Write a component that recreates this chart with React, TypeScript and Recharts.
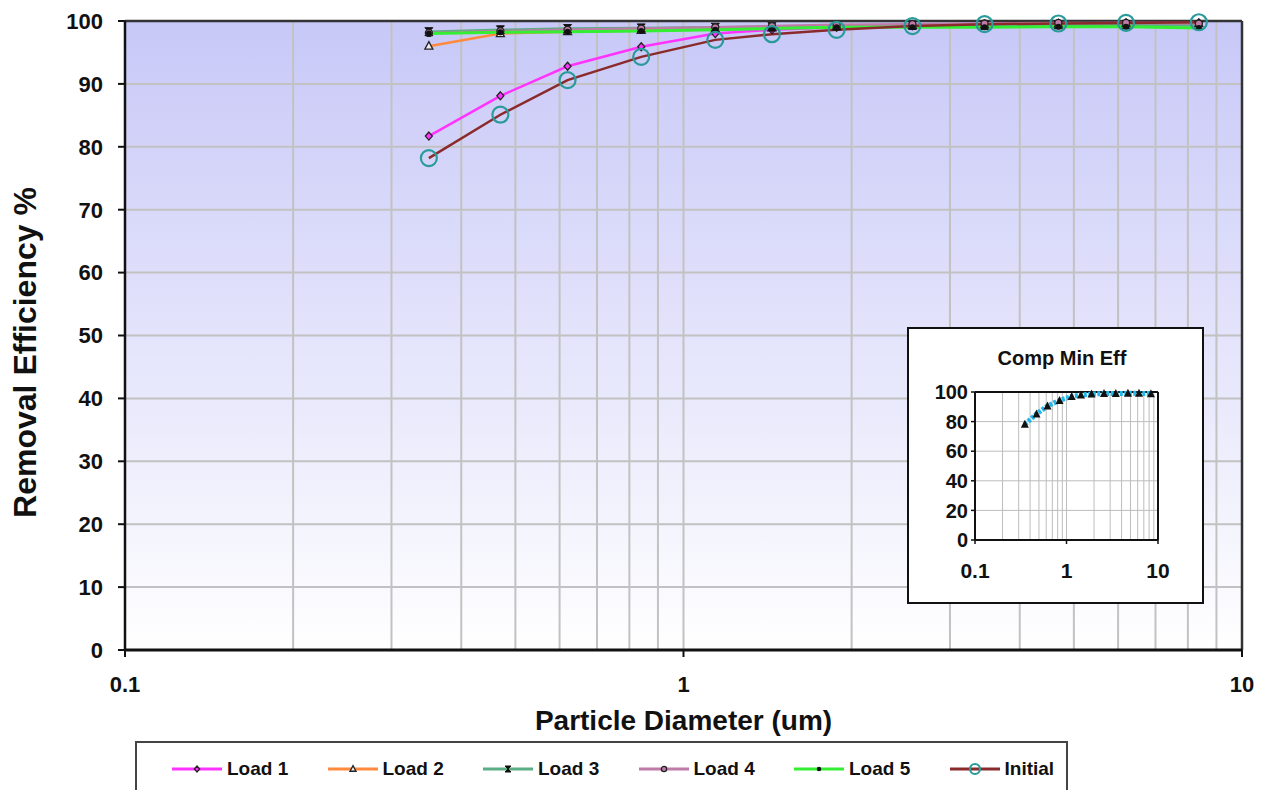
import React from 'react';
import {
  LineChart,
  Line,
  XAxis,
  YAxis,
  CartesianGrid,
  ReferenceLine,
  Label,
} from 'recharts';

// particle sizes (um)
const sizes = [0.35, 0.47, 0.62, 0.84, 1.14, 1.44, 1.88, 2.57, 3.46, 4.69, 6.2, 8.37];

const load1 = [81.7, 88.1, 92.8, 95.9, 98.0, 98.6, 99.0, 99.3, 99.5, 99.6, 99.7, 99.7];
const load2 = [96.0, 98.0, 98.3, 98.5, 98.7, 98.9, 99.1, 99.3, 99.4, 99.5, 99.6, 99.6];
const load3 = [98.3, 98.6, 98.8, 98.9, 99.0, 99.1, 99.2, 99.3, 99.3, 99.4, 99.4, 99.3];
const load4 = [98.1, 98.4, 98.6, 98.8, 99.0, 99.2, 99.4, 99.5, 99.6, 99.7, 99.7, 99.6];
const load5 = [98.0, 98.2, 98.3, 98.4, 98.6, 98.8, 99.0, 99.0, 99.0, 99.1, 99.1, 98.9];
const initial = [78.2, 85.1, 90.6, 94.3, 97.0, 97.9, 98.6, 99.2, 99.5, 99.6, 99.7, 99.8];

// composite minimum efficiency (inset)
const compMin = [78.2, 85.1, 90.6, 94.3, 97.0, 97.9, 98.6, 99.0, 99.0, 99.1, 99.1, 98.9];

const xTicks = [0.1, 1, 10];
const xGrid = [0.2, 0.3, 0.4, 0.5, 0.6, 0.7, 0.8, 0.9, 1, 2, 3, 4, 5, 6, 7, 8, 9];
const yTicks = [0, 10, 20, 30, 40, 50, 60, 70, 80, 90, 100];
const insetYTicks = [0, 20, 40, 60, 80, 100];

const font = '"Liberation Sans", Arial, sans-serif';

const series = [
  { key: 'load1', name: 'Load 1', color: '#FF33FF', width: 2.5, marker: 'diamond' },
  { key: 'load2', name: 'Load 2', color: '#FF8A3D', width: 2.5, marker: 'triangle' },
  { key: 'load3', name: 'Load 3', color: '#5AAE86', width: 2.5, marker: 'hourglass' },
  { key: 'load4', name: 'Load 4', color: '#C07AA8', width: 2.5, marker: 'circle' },
  { key: 'load5', name: 'Load 5', color: '#33EE33', width: 3, marker: 'dot' },
  { key: 'initial', name: 'Initial', color: '#8B2A2A', width: 2.5, marker: 'ring' },
];

const rows = sizes.map((d, i) => ({
  d,
  load1: load1[i],
  load2: load2[i],
  load3: load3[i],
  load4: load4[i],
  load5: load5[i],
  initial: initial[i],
}));

const insetRows = sizes.map((d, i) => ({ d, min: compMin[i] }));

function glyph(kind: string, x: number, y: number, color: string, small = false) {
  const k = small ? 0.75 : 1;
  switch (kind) {
    case 'diamond':
      return (
        <path
          d={`M${x},${y - 4 * k}L${x + 3.5 * k},${y}L${x},${y + 4 * k}L${x - 3.5 * k},${y}Z`}
          fill={color}
          stroke="#222"
          strokeWidth={1.3}
        />
      );
    case 'triangle':
      return (
        <path
          d={`M${x},${y - 4.5 * k}L${x + 4 * k},${y + 3 * k}L${x - 4 * k},${y + 3 * k}Z`}
          fill="#eee"
          stroke="#222"
          strokeWidth={1.3}
        />
      );
    case 'hourglass':
      return (
        <path
          d={`M${x - 4 * k},${y - 4 * k}L${x + 4 * k},${y - 4 * k}L${x - 4 * k},${y + 4 * k}L${x + 4 * k},${y + 4 * k}Z`}
          fill="#111"
          stroke="#111"
          strokeWidth={1}
        />
      );
    case 'circle':
      return <circle cx={x} cy={y} r={3.5 * k} fill={color} stroke="#222" strokeWidth={1.3} />;
    case 'dot':
      return <circle cx={x} cy={y} r={3 * k} fill="#111" />;
    case 'ring':
      return <circle cx={x} cy={y} r={small ? 5 : 8} fill="none" stroke="#2A9A9A" strokeWidth={2.2} />;
    case 'tri':
      return <path d={`M${x},${y - 4.5}L${x + 4},${y + 3.5}L${x - 4},${y + 3.5}Z`} fill="#111" />;
    default:
      return null;
  }
}

const makeDot = (kind: string, color: string) => (p: any) => {
  const { cx, cy, index } = p;
  if (cx == null || cy == null) return <g key={`n${index}`} />;
  return <g key={`m${index}`}>{glyph(kind, cx, cy, color)}</g>;
};

const XTitle = (props: any) => {
  const vb = props.viewBox || { x: 0, y: 0, width: 0 };
  return (
    <text
      x={vb.x + vb.width / 2}
      y={vb.y + 80}
      textAnchor="middle"
      fontFamily={font}
      fontWeight={700}
      fontSize={28}
      fill="#111"
    >
      Particle Diameter (um)
    </text>
  );
};

const YTitle = (props: any) => {
  const vb = props.viewBox || { x: 0, y: 0, height: 0 };
  const cy = vb.y + vb.height / 2 + 17;
  return (
    <text
      x={36}
      y={cy}
      transform={`rotate(-90, 36, ${cy})`}
      textAnchor="middle"
      fontFamily={font}
      fontWeight={700}
      fontSize={32}
      fill="#111"
    >
      Removal Efficiency %
    </text>
  );
};

const fmt = (v: number) => String(v);

export default function App() {
  return (
    <div
      style={{
        position: 'absolute',
        left: 0,
        top: 0,
        width: 1261,
        height: 790,
        overflow: 'hidden',
        background: '#fff',
      }}
    >
      <LineChart width={1261} height={790} data={rows} margin={{ top: 21, right: 19, left: 65, bottom: 90 }}>
        <defs>
          <linearGradient id="plotBg" x1="0" y1="0" x2="0" y2="1">
            <stop offset="0%" stopColor="#C8C8F8" />
            <stop offset="100%" stopColor="#FFFFFF" />
          </linearGradient>
        </defs>
        <CartesianGrid vertical={false} stroke="#C2C2C2" strokeWidth={2} fill="url(#plotBg)" fillOpacity={1} />
        {xGrid.map((v) => (
          <ReferenceLine key={v} x={v} stroke="#C2C2C2" strokeWidth={2} />
        ))}
        <ReferenceLine y={100} stroke="#333" strokeWidth={2.5} />
        <ReferenceLine x={10} stroke="#333" strokeWidth={2.5} />
        <XAxis
          dataKey="d"
          type="number"
          scale="log"
          domain={[0.1, 10]}
          ticks={xTicks}
          interval={0}
          allowDataOverflow
          height={50}
          tickSize={7}
          tickMargin={19}
          tickFormatter={fmt}
          axisLine={{ stroke: '#111', strokeWidth: 3 }}
          tickLine={{ stroke: '#111', strokeWidth: 2 }}
          tick={{ fill: '#111', fontSize: 22, fontWeight: 700, fontFamily: font }}
        >
          <Label content={<XTitle />} />
        </XAxis>
        <YAxis
          type="number"
          domain={[0, 100]}
          ticks={yTicks}
          interval={0}
          width={60}
          tickSize={7}
          tickMargin={15}
          axisLine={{ stroke: '#111', strokeWidth: 2.5 }}
          tickLine={{ stroke: '#111', strokeWidth: 2 }}
          tick={{ fill: '#111', fontSize: 22, fontWeight: 700, fontFamily: font }}
        >
          <Label content={<YTitle />} />
        </YAxis>
        {series.map((s) => (
          <Line
            key={s.key}
            dataKey={s.key}
            name={s.name}
            type="linear"
            stroke={s.color}
            strokeWidth={s.width}
            dot={makeDot(s.marker, s.color)}
            activeDot={false}
            isAnimationActive={false}
          />
        ))}
      </LineChart>

      {/* inset: composite minimum efficiency */}
      <div
        style={{
          position: 'absolute',
          left: 907,
          top: 327,
          width: 297,
          height: 277,
          border: '2px solid #111',
          boxSizing: 'border-box',
          background: '#fff',
        }}
      >
        <LineChart width={293} height={273} data={insetRows} margin={{ top: 63, right: 44, left: 26, bottom: 32 }}>
          <text x={153} y={36} textAnchor="middle" fontFamily={font} fontWeight={700} fontSize={20} fill="#111">
            Comp Min Eff
          </text>
          <CartesianGrid vertical={false} stroke="#BDBDBD" strokeWidth={1} />
          {xGrid.map((v) => (
            <ReferenceLine key={v} x={v} stroke="#BDBDBD" strokeWidth={1} />
          ))}
          <ReferenceLine y={100} stroke="#111" strokeWidth={2} />
          <ReferenceLine x={10} stroke="#111" strokeWidth={2} />
          <XAxis
            dataKey="d"
            type="number"
            scale="log"
            domain={[0.1, 10]}
            ticks={xTicks}
            interval={0}
            allowDataOverflow
            height={30}
            tickSize={4}
            tickMargin={19}
            tickFormatter={fmt}
            axisLine={{ stroke: '#111', strokeWidth: 2 }}
            tickLine={{ stroke: '#111', strokeWidth: 1.5 }}
            tick={{ fill: '#111', fontSize: 21, fontWeight: 700, fontFamily: font }}
          />
          <YAxis
            type="number"
            domain={[0, 100]}
            ticks={insetYTicks}
            interval={0}
            width={40}
            tickSize={4}
            tickMargin={3}
            axisLine={{ stroke: '#111', strokeWidth: 2 }}
            tickLine={{ stroke: '#111', strokeWidth: 1.5 }}
            tick={{ fill: '#111', fontSize: 20, fontWeight: 700, fontFamily: font }}
          />
          <Line
            dataKey="min"
            name="Comp Min Eff"
            type="linear"
            stroke="#22B8EC"
            strokeWidth={5}
            strokeDasharray="3 1.5"
            dot={makeDot('tri', '#111')}
            activeDot={false}
            isAnimationActive={false}
          />
        </LineChart>
      </div>

      {/* legend */}
      <div
        style={{
          position: 'absolute',
          left: 135,
          top: 741,
          width: 933,
          height: 70,
          border: '2px solid #444',
          boxSizing: 'border-box',
          background: '#fff',
          fontFamily: font,
        }}
      >
        {series.map((s, i) => (
          <div
            key={s.key}
            style={{
              position: 'absolute',
              left: 35 + i * 155.5,
              top: 16,
              height: 20,
              display: 'flex',
              alignItems: 'center',
            }}
          >
            <svg width={50} height={20}>
              <line x1={0} y1={10} x2={50} y2={10} stroke={s.color} strokeWidth={3} />
              {glyph(s.marker, 25, 10, s.color, true)}
            </svg>
            <span style={{ marginLeft: 5, fontSize: 19, fontWeight: 700, color: '#111' }}>{s.name}</span>
          </div>
        ))}
      </div>
    </div>
  );
}
